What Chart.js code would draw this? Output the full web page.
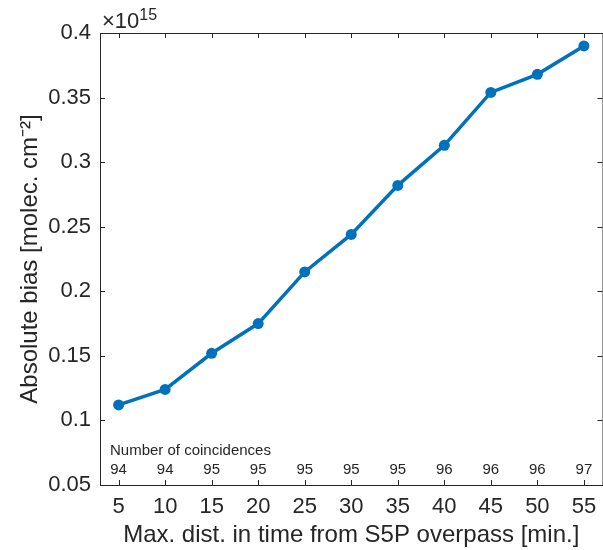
<!DOCTYPE html>
<html>
<head>
<meta charset="utf-8">
<script src="https://cdn.jsdelivr.net/npm/chart.js@4"></script>
<style>
  html, body { margin: 0; padding: 0; background: #fff; overflow: hidden; }
  #wrap { width: 608px; height: 550px; }
</style>
</head>
<body>
<div id="wrap"><canvas id="myChart" width="608" height="550"></canvas></div>
<script>
// minutes from overpass
const maxDist = [5, 10, 15, 20, 25, 30, 35, 40, 45, 50, 55];
// absolute bias, in units of 1e15 molec. cm-2
const absBias = [0.112, 0.124, 0.152, 0.175, 0.215, 0.244, 0.282, 0.313, 0.354, 0.368, 0.390];
// number of coincidences for each point
const nCoinc = [94, 94, 95, 95, 95, 95, 95, 96, 96, 96, 97];
const yTicks = [0.05, 0.1, 0.15, 0.2, 0.25, 0.3, 0.35, 0.4];

const FONT = "'Liberation Sans', Arial, Helvetica, sans-serif";
const AXC = '#262626';

// matlab style box, inward ticks and the extra texts
const boxPlugin = {
  id: 'boxPlugin',
  afterDraw(chart) {
    const c = chart.ctx;
    const a = chart.chartArea;
    const xs = chart.scales.x, ys = chart.scales.y;
    c.save();
    c.strokeStyle = AXC;
    c.lineWidth = 1;
    c.strokeRect(a.left + 0.5, a.top + 0.5, a.right - a.left, a.bottom - a.top);
    c.beginPath();
    maxDist.forEach(v => {
      const px = Math.round(xs.getPixelForValue(v)) + 0.5;
      c.moveTo(px, a.bottom); c.lineTo(px, a.bottom - 5);
      c.moveTo(px, a.top); c.lineTo(px, a.top + 5);
    });
    yTicks.forEach(v => {
      const py = Math.round(ys.getPixelForValue(v)) + 0.5;
      c.moveTo(a.left, py); c.lineTo(a.left + 5, py);
      c.moveTo(a.right, py); c.lineTo(a.right - 5, py);
    });
    c.stroke();

    c.fillStyle = AXC;
    // exponent label
    c.textBaseline = 'alphabetic';
    c.textAlign = 'left';
    c.font = '22px ' + FONT;
    c.fillText('\u00d710', a.left + 2, a.top - 5);
    const w = c.measureText('\u00d710').width;
    c.font = '16px ' + FONT;
    c.fillText('15', a.left + 2 + w, a.top - 13);

    // coincidences
    c.font = '15px ' + FONT;
    c.fillText('Number of coincidences', a.left + 10, a.bottom - 30);
    c.textAlign = 'center';
    maxDist.forEach((v, i) => {
      c.fillText(String(nCoinc[i]), xs.getPixelForValue(v), a.bottom - 11);
    });
    c.restore();
  }
};

const ctx = document.getElementById('myChart');
const myChart = new Chart(ctx, {
  type: 'line',
  data: {
    datasets: [{
      label: 'Absolute bias',
      data: maxDist.map((x, i) => ({ x: x, y: absBias[i] })),
      borderColor: '#0072BD',
      backgroundColor: '#0072BD',
      borderWidth: 3.5,
      pointRadius: 5.5,
      pointHoverRadius: 5.5,
      pointBorderWidth: 0,
      tension: 0,
    }],
  },
  options: {
    responsive: false,
    animation: false,
    layout: { padding: { top: 33, right: 2, left: 0, bottom: 0 } },
    plugins: { legend: { display: false }, tooltip: { enabled: false } },
    scales: {
      x: {
        type: 'linear',
        min: 3, max: 57,
        afterBuildTicks: s => { s.ticks = maxDist.map(v => ({ value: v })); },
        afterFit: s => { s.height = 65; },
        grid: { display: false, drawTicks: false },
        border: { display: false },
        ticks: { color: AXC, font: { family: FONT, size: 22 }, padding: 9, maxRotation: 0, autoSkip: false },
        title: {
          display: true,
          text: 'Max. dist. in time from S5P overpass [min.]',
          color: AXC,
          font: { family: FONT, size: 24 },
          padding: { top: 0, bottom: 0 },
        },
      },
      y: {
        type: 'linear',
        min: 0.05, max: 0.4,
        afterBuildTicks: s => { s.ticks = yTicks.map(v => ({ value: v })); },
        afterFit: s => { s.width = 100; },
        grid: { display: false, drawTicks: false },
        border: { display: false },
        ticks: { color: AXC, font: { family: FONT, size: 22 }, padding: 9,
          callback: v => String(Math.round(v * 100) / 100) },
        title: {
          display: true,
          text: 'Absolute bias [molec. cm\u207B\u00B2]',
          color: AXC,
          font: { family: FONT, size: 24 },
          padding: { top: 16, bottom: 0 },
        },
      },
    },
  },
  plugins: [boxPlugin],
});
</script>
</body>
</html>
